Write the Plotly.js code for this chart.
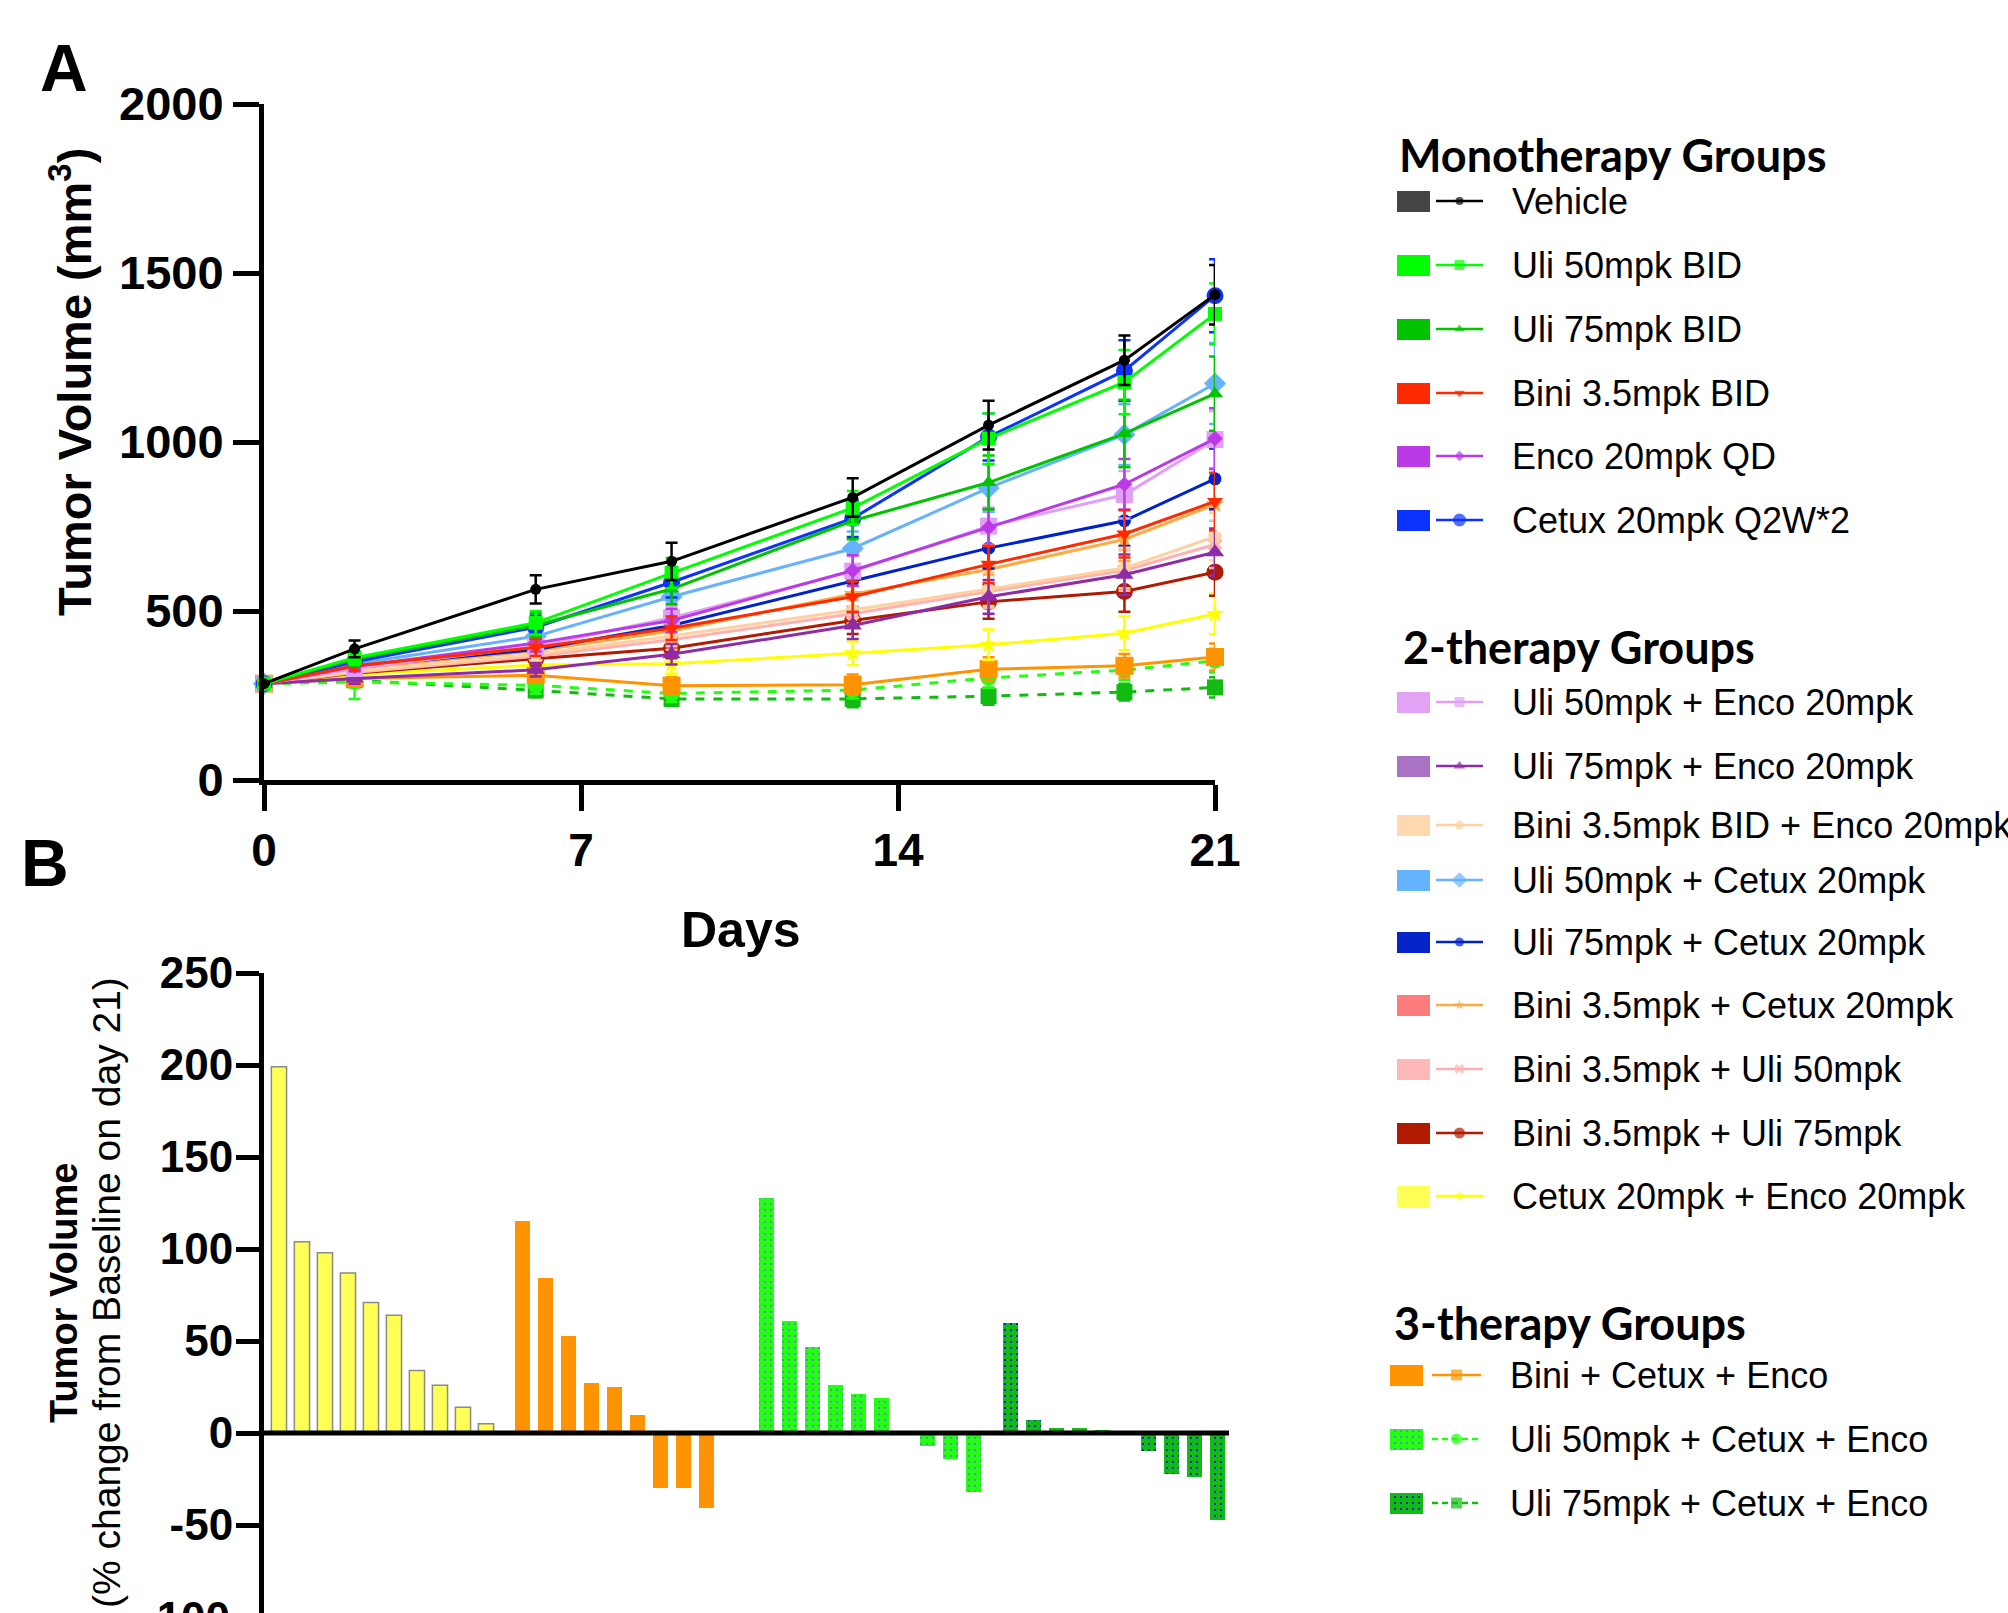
<!DOCTYPE html>
<html><head><meta charset="utf-8">
<script src="https://cdn.plot.ly/plotly-3.0.1.min.js"></script>
<style>html,body{margin:0;padding:0;background:#fff}#chart{width:2008px;height:1613px}</style>
</head><body><div id="chart"></div>
<script>
// ---------------- DATA ----------------
const days = [0, 2, 6, 9, 13, 16, 19, 21];
const dayTicks = [0, 7, 14, 21];
const volumeTicks = [0, 500, 1000, 1500, 2000];
const pctTicks = [-100, -50, 0, 50, 100, 150, 200, 250];
const pctTickText = ['-100', '-50', '0', '50', '100', '150', '200', '250'];

// mean tumour volume (mm3)
const vehicle        = [285, 388, 564, 647, 836, 1050, 1242, 1436];
const uli50Bid       = [285, 362, 465, 612, 805, 1010, 1177, 1379];
const uli75Bid       = [285, 358, 458, 565, 767, 880, 1025, 1143];
const bini35Bid      = [285, 338, 392, 449, 542, 638, 728, 824];
const enco20Qd       = [285, 336, 405, 472, 620, 747, 875, 1010];
const cetux20        = [285, 350, 452, 585, 774, 1015, 1211, 1433];
const uli50Enco      = [285, 330, 395, 480, 618, 751, 844, 1007];
const uli75Enco      = [285, 300, 326, 372, 457, 542, 607, 674];
const biniEnco       = [285, 322, 372, 426, 503, 565, 627, 720];
const uli50Cetux     = [285, 343, 425, 542, 685, 864, 1022, 1173];
const uli75Cetux     = [285, 335, 386, 457, 589, 686, 767, 891];
const biniCetux      = [285, 330, 382, 441, 550, 623, 712, 815];
const biniUli50      = [285, 318, 366, 415, 492, 558, 620, 697];
const biniUli75      = [285, 316, 359, 390, 472, 527, 558, 615];
const cetuxEnco      = [285, 312, 340, 344, 375, 400, 434, 491];
const biniCetuxEnco  = [285, 300, 310, 279, 282, 328, 338, 364];
const uli50CetuxEnco = [285, 290, 280, 256, 266, 302, 325, 353];
const uli75CetuxEnco = [285, 295, 265, 240, 240, 248, 260, 274];

// SEM (mm3)
const vehicleErr        = [0, 25, 42, 55, 57, 72, 73, 88];
const uli50BidErr       = [0, 20, 35, 45, 50, 75, 95, 90];
const uli75BidErr       = [0, 20, 35, 45, 55, 80, 100, 110];
const bini35BidErr      = [0, 15, 25, 35, 45, 55, 70, 85];
const enco20QdErr       = [0, 15, 25, 35, 45, 55, 75, 90];
const cetux20Err        = [0, 20, 35, 45, 55, 70, 90, 108];
const uli50EncoErr      = [0, 15, 25, 35, 45, 55, 70, 85];
const uli75EncoErr      = [0, 15, 20, 30, 40, 50, 60, 70];
const biniEncoErr       = [0, 15, 20, 30, 40, 50, 60, 70];
const uli50CetuxErr     = [0, 20, 30, 40, 50, 70, 90, 120];
const uli75CetuxErr     = [0, 15, 25, 35, 45, 60, 75, 90];
const biniCetuxErr      = [0, 15, 25, 35, 45, 55, 65, 80];
const biniUli50Err      = [0, 15, 20, 30, 40, 50, 60, 70];
const biniUli75Err      = [0, 15, 20, 30, 40, 50, 60, 70];
const cetuxEncoErr      = [0, 15, 20, 30, 35, 45, 50, 60];
const biniCetuxEncoErr  = [0, 15, 20, 25, 30, 35, 35, 40];
const uli50CetuxEncoErr = [0, 50, 25, 25, 25, 30, 30, 35];
const uli75CetuxEncoErr = [0, 20, 20, 20, 25, 25, 25, 30];

// waterfall: % change from baseline on day 21 (one bar per animal)
const cetuxEncoPct      = [199, 104, 98, 87, 71, 64, 34, 26, 14, 5];
const biniCetuxEncoPct  = [115, 84, 53, 27, 25, 10, -30, -30, -41, 0];
const uli50CetuxEncoPct = [128, 61, 47, 26, 21, 19, 0, -7, -14, -32];
const uli75CetuxEncoPct = [60, 7, 3, 2.5, 1.5, 0, -10, -22, -24, -47];

const groupTitles = ['Monotherapy Groups', '2-therapy Groups', '3-therapy Groups'];

// ---------------- STYLES ----------------
const ARIAL = 'Liberation Sans, Arial, Helvetica, sans-serif';
const TITLEFONT = 'Lato, Open Sans, sans-serif';

const groups = [
  [
    {name: 'Vehicle', y: vehicle, err: vehicleErr, line: '#000000', box: '#444444', symbol: 'circle', size: 11, lsize: 8},
    {name: 'Uli 50mpk BID', y: uli50Bid, err: uli50BidErr, line: '#00FF00', box: '#00FF00', symbol: 'square', size: 14, lsize: 10},
    {name: 'Uli 75mpk BID', y: uli75Bid, err: uli75BidErr, line: '#00C400', box: '#00C400', symbol: 'triangle-up', size: 14, lsize: 9},
    {name: 'Bini 3.5mpk BID', y: bini35Bid, err: bini35BidErr, line: '#FF2A00', box: '#FF2A00', symbol: 'triangle-down', size: 14, lsize: 9},
    {name: 'Enco 20mpk QD', y: enco20Qd, err: enco20QdErr, line: '#BB3AE8', box: '#BB3AE8', symbol: 'diamond', size: 12, lsize: 8},
    {name: 'Cetux 20mpk Q2W*2', y: cetux20, err: cetux20Err, line: '#0A33FF', box: '#0A33FF', symbol: 'circle', size: 17, lsize: 13}
  ],
  [
    {name: 'Uli 50mpk + Enco 20mpk', y: uli50Enco, err: uli50EncoErr, line: '#E0A0F5', box: '#E3A3F5', symbol: 'square', size: 17, lsize: 10},
    {name: 'Uli 75mpk + Enco 20mpk', y: uli75Enco, err: uli75EncoErr, line: '#8E2CA8', box: '#AA72C2', symbol: 'triangle-up', size: 16, lsize: 10},
    {name: 'Bini 3.5mpk BID + Enco 20mpk', y: biniEnco, err: biniEncoErr, line: '#FFD0A0', box: '#FFD8AF', symbol: 'pentagon', size: 15, lsize: 10},
    {name: 'Uli 50mpk + Cetux 20mpk', y: uli50Cetux, err: uli50CetuxErr, line: '#66B2FF', box: '#66B3FF', symbol: 'diamond', size: 17, lsize: 12},
    {name: 'Uli 75mpk + Cetux 20mpk', y: uli75Cetux, err: uli75CetuxErr, line: '#0022CC', box: '#0525C8', symbol: 'circle', size: 13, lsize: 9},
    {name: 'Bini 3.5mpk + Cetux 20mpk', y: biniCetux, err: biniCetuxErr, line: '#FFA940', box: '#FF7C7C', symbol: 'star', size: 14, lsize: 8},
    {name: 'Bini 3.5mpk + Uli 50mpk', y: biniUli50, err: biniUli50Err, line: '#FFB0B0', box: '#FFB8B8', symbol: 'x', size: 13, lsize: 9},
    {name: 'Bini 3.5mpk + Uli 75mpk', y: biniUli75, err: biniUli75Err, line: '#B01A00', box: '#B01A00', symbol: 'circle', size: 17, lsize: 11},
    {name: 'Cetux 20mpk + Enco 20mpk', y: cetuxEnco, err: cetuxEncoErr, line: '#FFFF00', box: '#FFFF55', symbol: 'star', size: 14, lsize: 8}
  ],
  [
    {name: 'Bini + Cetux + Enco', y: biniCetuxEnco, err: biniCetuxEncoErr, line: '#FF9300', box: '#FF9300', symbol: 'square', size: 18, lsize: 11, dash: 'solid'},
    {name: 'Uli 50mpk + Cetux + Enco', y: uli50CetuxEnco, err: uli50CetuxEncoErr, line: '#22FF11', box: '#22FF11', symbol: 'circle', size: 16, lsize: 11, dash: 'dash', dots: '#6F6FE8'},
    {name: 'Uli 75mpk + Cetux + Enco', y: uli75CetuxEnco, err: uli75CetuxEncoErr, line: '#11BB11', box: '#11BB11', symbol: 'square', size: 16, lsize: 11, dash: 'dash', dots: '#0000FF'}
  ]
];

const waterfall = [
  {y: cetuxEncoPct, color: '#FFFF55', lineColor: '#8A8A8A', lineWidth: 1.5},
  {y: biniCetuxEncoPct, color: '#FF9300'},
  {y: uli50CetuxEncoPct, color: '#22FF11', dots: '#6F6FE8'},
  {y: uli75CetuxEncoPct, color: '#11BB11', dots: '#0000FF'}
];

// legend layout (pixel positions on the page)
const legendRowsY = [[201, 265, 329, 393, 456, 520], [702, 766, 825, 880, 942, 1005, 1069, 1133, 1196], [1375, 1439, 1503]];
const legendTitlePos = [[1397, 155], [1401, 647], [1392, 1323]];
const legendBoxX = [[1397, 1430], [1397, 1430], [1390, 1423]];
const legendLineX = [[1436, 1483], [1436, 1483], [1432, 1481]];
const legendTextX = [1510, 1510, 1508];

// ---------------- BUILD ----------------
const W = 2008, H = 1613;
const traces = [];

// panel A lines (draw so that Vehicle ends on top)
const drawOrder = [];
for (let g = groups.length - 1; g >= 0; g--) {
  for (let i = groups[g].length - 1; i >= 0; i--) drawOrder.push(groups[g][i]);
}
drawOrder.forEach(s => {
  traces.push({
    type: 'scatter', x: days, y: s.y, xaxis: 'x', yaxis: 'y', name: s.name,
    mode: 'lines+markers', cliponaxis: false,
    line: {color: s.line, width: 3, dash: s.dash || 'solid'},
    marker: {symbol: s.symbol, size: s.size, color: s.line, line: {width: 0}},
    error_y: {type: 'data', array: s.err, visible: true, color: s.line, thickness: 2.5, width: 6},
    hoverinfo: 'skip'
  });
});

// panel B waterfall
const perGroup = 10, groupGap = 0.6;
const dotPattern = (fg, bg) => ({shape: '.', fgcolor: fg, bgcolor: bg, size: 6, solidity: 0.1, fillmode: 'replace'});
waterfall.forEach((grp, g) => {
  const xs = grp.y.map((v, i) => g * (perGroup + groupGap) + i);
  const marker = {color: grp.color, line: {color: grp.lineColor || grp.color, width: grp.lineWidth || 0}};
  if (grp.dots) marker.pattern = dotPattern(grp.dots, grp.color);
  traces.push({type: 'bar', x: xs, y: grp.y, xaxis: 'x2', yaxis: 'y2', width: 0.66, marker: marker, hoverinfo: 'skip'});
});

// custom legend
const shapes = [];
const annotations = [];
groups.forEach((grp, g) => {
  annotations.push({xref: 'x3', yref: 'y3', x: legendTitlePos[g][0], y: legendTitlePos[g][1], xanchor: 'left', yanchor: 'middle',
    text: '<b>' + groupTitles[g] + '</b>', showarrow: false, font: {family: TITLEFONT, size: 45, color: '#000'}});
  grp.forEach((s, i) => {
    const ry = legendRowsY[g][i];
    if (s.dots) {
      // patterned swatch drawn as a tiny horizontal bar on the legend axis
      traces.push({type: 'bar', orientation: 'h', xaxis: 'x3', yaxis: 'y3', y: [ry + 0.5], x: [legendBoxX[g][1] - legendBoxX[g][0]],
        base: [legendBoxX[g][0]], width: 21, hoverinfo: 'skip',
        marker: {color: s.box, line: {width: 0}, pattern: dotPattern(s.dots, s.box)}});
    } else {
      shapes.push({type: 'rect', xref: 'x3', yref: 'y3', x0: legendBoxX[g][0], x1: legendBoxX[g][1], y0: ry - 10, y1: ry + 11,
        fillcolor: s.box, line: {width: 0}});
    }
    const lx = legendLineX[g];
    traces.push({type: 'scatter', xaxis: 'x3', yaxis: 'y3', x: [lx[0], (lx[0] + lx[1]) / 2, lx[1]], y: [ry, ry, ry],
      mode: 'lines+markers', cliponaxis: false, hoverinfo: 'skip',
      line: {color: s.line, width: 2.5, dash: s.dash === 'dash' ? '6px,4px' : 'solid'},
      marker: {symbol: s.symbol, size: [0, s.lsize, 0], color: s.line, line: {width: 0}}});
    annotations.push({xref: 'x3', yref: 'y3', x: legendTextX[g], y: ry, xanchor: 'left', yanchor: 'middle',
      text: s.name, showarrow: false, font: {family: ARIAL, size: 36, color: '#000'}});
  });
});

// panel letters and axis titles
annotations.push({xref: 'x3', yref: 'y3', x: 64, y: 68, text: '<b>A</b>', showarrow: false, xanchor: 'center', yanchor: 'middle', font: {family: ARIAL, size: 66, color: '#000'}});
annotations.push({xref: 'x3', yref: 'y3', x: 45, y: 863, text: '<b>B</b>', showarrow: false, xanchor: 'center', yanchor: 'middle', font: {family: ARIAL, size: 66, color: '#000'}});
annotations.push({xref: 'x3', yref: 'y3', x: 71, y: 382, text: '<b>Tumor Volume (mm<sup>3</sup>)</b>', textangle: -90, showarrow: false, xanchor: 'center', yanchor: 'middle', font: {family: ARIAL, size: 47, color: '#000'}});
annotations.push({xref: 'x3', yref: 'y3', x: 741, y: 930, text: '<b>Days</b>', showarrow: false, xanchor: 'center', yanchor: 'middle', font: {family: ARIAL, size: 50, color: '#000'}});
annotations.push({xref: 'x3', yref: 'y3', x: 64, y: 1293, text: '<b>Tumor Volume</b>', textangle: -90, showarrow: false, xanchor: 'center', yanchor: 'middle', font: {family: ARIAL, size: 38, color: '#000'}});
annotations.push({xref: 'x3', yref: 'y3', x: 106, y: 1293, text: '(% change from Baseline on day 21)', textangle: -90, showarrow: false, xanchor: 'center', yanchor: 'middle', font: {family: ARIAL, size: 39, color: '#000'}});
// partially visible bottom tick label of panel B (its centre lies just below the page edge)
annotations.push({xref: 'x3', yref: 'y3', x: 232, y: 1608, yshift: -9, text: '<b>' + pctTickText[0] + '</b>', showarrow: false, xanchor: 'right', yanchor: 'middle', font: {family: ARIAL, size: 44, color: '#000'}});

// panel B zero line
shapes.push({type: 'line', xref: 'x2 domain', yref: 'y2', x0: 0, x1: 1, y0: 0, y1: 0, line: {color: '#000', width: 5}, layer: 'above'});

const tickFont = (sz) => ({family: ARIAL, size: sz, color: '#000', weight: 'bold'});
const axisCommon = {showline: true, linecolor: '#000', linewidth: 5, ticks: 'outside', ticklen: 26, tickwidth: 5, tickcolor: '#000',
  showgrid: false, zeroline: false, fixedrange: true, tickmode: 'array'};

const layout = {
  width: W, height: H, margin: {l: 0, r: 0, t: 0, b: 0, pad: 0},
  paper_bgcolor: '#fff', plot_bgcolor: 'rgba(0,0,0,0)', showlegend: false,
  font: {family: ARIAL, color: '#000'},
  xaxis: Object.assign({}, axisCommon, {domain: [264 / W, 1215 / W], range: [0, 21], anchor: 'y', tickvals: dayTicks, ticktext: dayTicks.map(String), tickfont: tickFont(46)}),
  yaxis: Object.assign({}, axisCommon, {domain: [1 - 780 / H, 1 - 104 / H], range: [0, 2000], anchor: 'x', tickvals: volumeTicks, ticktext: volumeTicks.map(String), tickfont: tickFont(47)}),
  xaxis2: {domain: [264 / W, 1229 / W], range: [-0.65, 41.3], anchor: 'y2', visible: false, fixedrange: true},
  yaxis2: Object.assign({}, axisCommon, {domain: [0, 1 - 973 / H], range: [-97.8, 250], anchor: 'x2', tickvals: pctTicks, ticktext: pctTickText, tickfont: tickFont(44), ticklen: 23, ticklabelstandoff: -6}),
  xaxis3: {domain: [0, 1], range: [0, W], anchor: 'y3', visible: false, fixedrange: true},
  yaxis3: {domain: [0, 1], range: [H, 0], anchor: 'x3', visible: false, fixedrange: true},
  bargap: 0, barmode: 'overlay',
  shapes: shapes,
  annotations: annotations
};

Plotly.newPlot('chart', traces, layout, {staticPlot: true, displayModeBar: false});
</script></body></html>
